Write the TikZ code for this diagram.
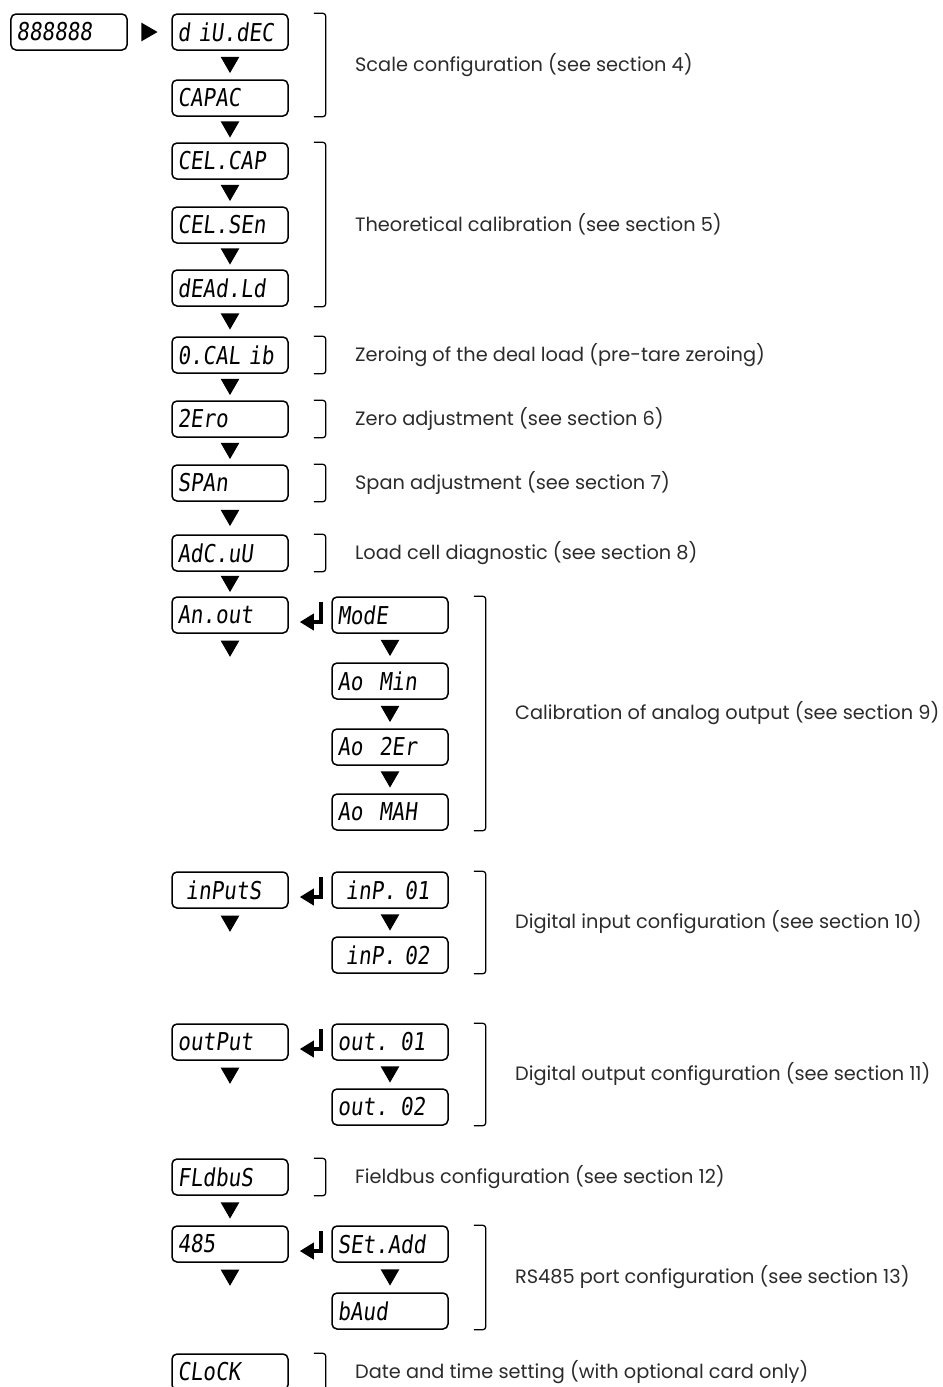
\documentclass[tikz,border=0pt]{standalone}
\usepackage{fontspec}
\setmainfont{Poppins}
\newfontfamily\lcdfont[FakeSlant=0.12,FakeStretch=0.85]{DejaVu Sans Mono}
\usetikzlibrary{positioning,calc,shapes.geometric,arrows.meta}

\definecolor{inkgray}{HTML}{2B2B2B}

\tikzset{
  lcd/.style={draw=black, line width=0.3mm, rounded corners=1mm,
    text width=21mm, inner xsep=1.1mm, inner ysep=0pt,
    minimum height=7.2mm, align=left,
    font=\lcdfont\fontsize{14}{14}\selectfont},
  downtri/.style={fill=black, regular polygon, regular polygon sides=3,
    shape border rotate=180, minimum size=4.3mm, inner sep=0pt, yshift=0.54mm},
  righttri/.style={fill=black, regular polygon, regular polygon sides=3,
    shape border rotate=-90, minimum size=4.3mm, inner sep=0pt, xshift=-0.54mm},
  brk/.style={line width=0.25mm, rounded corners=0.6mm},
  retarrow/.style={line width=0.8mm, -{Triangle[length=2.8mm,width=3.2mm]}},
  desc/.style={text=inkgray, inner sep=0pt, anchor=west,
    font=\fontsize{11}{13}\selectfont},
}

% bracket from the top of #1 to the bottom of #2, label node #3 with text #4
\newcommand{\secbracket}[4]{%
  \draw[brk] ([xshift=5mm]#1.north east) -- ++(2.4mm,0) |- ([xshift=5mm]#2.south east);
  \node[desc] (#3) at ($([xshift=13.2mm]#1.north east)!0.5!([xshift=13.2mm]#2.south east)$) {#4};
}

\begin{document}
\begin{tikzpicture}[x=0.2mm,y=-0.2mm]
    \useasboundingbox (0,0) rectangle (942,1387);
    \clip (0,0) rectangle (942,1387);

    % Start display and main menu column
    \node[lcd] (disp) at (69,32) {888888};
    \node[lcd] (diudec) at (230,32) {d iU.dEC};
    \node[lcd] (capac) at (230,98) {CAPAC};
    \node[lcd] (celcap) at (230,161) {CEL.CAP};
    \node[lcd] (celsen) at (230,225) {CEL.SEn};
    \node[lcd] (deadld) at (230,288) {dEAd.Ld};
    \node[lcd] (ocalib) at (230,355) {0.CAL ib};
    \node[lcd] (zero) at (230,419) {2Ero};
    \node[lcd] (span) at (230,483) {SPAn};
    \node[lcd] (adcuv) at (230,553) {AdC.uU};
    \node[lcd] (anout) at (230,615) {An.out};
    \node[lcd] (inputs) at (230,890) {\ inPutS};
    \node[lcd] (output) at (230,1042) {outPut};
    \node[lcd] (fldbus) at (230,1177) {FLdbuS};
    \node[lcd] (rs485) at (230,1244) {485};
    \node[lcd] (clock) at (230,1372) {CLoCK};

    % Sub menus
    \node[lcd] (mode) at (390,615) {ModE};
    \node[lcd] (aomin) at (390,681) {Ao\ \ Min};
    \node[lcd] (aozer) at (390,747) {Ao\ \ 2Er};
    \node[lcd] (aomax) at (390,812) {Ao\ \ MAH};
    \node[lcd] (inpa) at (390,890) {\ inP. 01};
    \node[lcd] (inpb) at (390,955) {\ inP. 02};
    \node[lcd] (outa) at (390,1042) {out. 01};
    \node[lcd] (outb) at (390,1107) {out. 02};
    \node[lcd] (setadd) at (390,1244) {SEt.Add};
    \node[lcd] (baud) at (390,1311) {bAud};

    % Step triangles
    \node[righttri] (t0) at ($(disp.east)!0.5!(diudec.west)$) {};
    \foreach \a/\b in {diudec/capac, capac/celcap, celcap/celsen, celsen/deadld,
        deadld/ocalib, ocalib/zero, zero/span, span/adcuv, adcuv/anout,
        mode/aomin, aomin/aozer, aozer/aomax, inpa/inpb, outa/outb,
        fldbus/rs485, setadd/baud}
      \node[downtri] (t-\a) at ($(\a.south)!0.5!(\b.north)$) {};
    \foreach \a in {anout, inputs, output, rs485}
      \node[downtri] (t-\a) at ([yshift=-3mm]\a.south) {};

    % Enter arrows into sub menus
    \foreach \a/\b in {anout/mode, inputs/inpa, output/outa, rs485/setadd}
      \draw[retarrow] ([xshift=-2.1mm,yshift=-1.2mm]\b.north west)
        |- ([xshift=2.2mm,yshift=-1.4mm]\a.east);

    % Brackets with descriptions
    \secbracket{diudec}{capac}{lscale}{Scale configuration (see section 4)}
    \secbracket{celcap}{deadld}{ltheo}{Theoretical calibration (see section 5)}
    \secbracket{ocalib}{ocalib}{ldead}{Zeroing of the deal load (pre-tare zeroing)}
    \secbracket{zero}{zero}{lzero}{Zero adjustment (see section 6)}
    \secbracket{span}{span}{lspan}{Span adjustment (see section 7)}
    \secbracket{adcuv}{adcuv}{ladc}{Load cell diagnostic (see section 8)}
    \secbracket{mode}{aomax}{lanout}{Calibration of analog output (see section 9)}
    \secbracket{inpa}{inpb}{linp}{Digital input configuration (see section 10)}
    \secbracket{outa}{outb}{lout}{Digital output configuration (see section 11)}
    \secbracket{fldbus}{fldbus}{lbus}{Fieldbus configuration (see section 12)}
    \secbracket{setadd}{baud}{lrs}{RS485 port configuration (see section 13)}
    \secbracket{clock}{clock}{lclock}{Date and time setting (with optional card only)}
\end{tikzpicture}
\end{document}
